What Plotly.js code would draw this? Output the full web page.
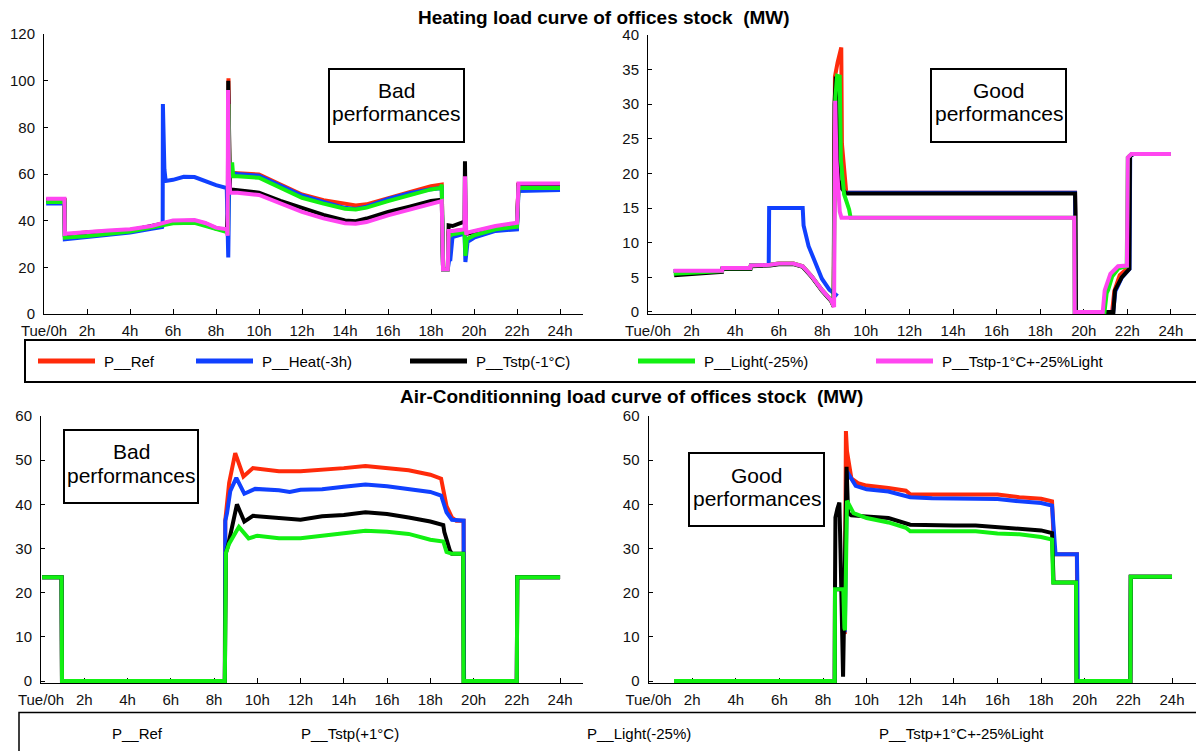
<!DOCTYPE html>
<html>
<head>
<meta charset="utf-8">
<script src="https://cdn.plot.ly/plotly-3.0.1.min.js"></script>
<style>html,body{margin:0;padding:0;background:#fff}#chart{width:1196px;height:751px}</style>
</head>
<body>
<div id="chart"></div>
<script>
// ---------------- DATA ----------------
const hourTicks = [0,2,4,6,8,10,12,14,16,18,20,22,24];
const hourLabels = ['Tue/0h','2h','4h','6h','8h','10h','12h','14h','16h','18h','20h','22h','24h'];

const heatNames = ['P__Ref','P__Heat(-3h)','P__Tstp(-1°C)','P__Light(-25%)','P__Tstp-1°C+-25%Light'];
const acNames = ['P__Ref','P__Tstp(+1°C)','P__Light(-25%)','P__Tstp+1°C+-25%Light'];

// Heating - bad performances (MW)
const hbRefX = [0.1,0.95,0.97,2,3,4,5,6,7,7.5,8,8.5,8.55,8.58,8.62,8.7,9,10,11,12,13,14,14.5,15,16,17,18,18.5,18.56,18.78,18.82,19,19.5,19.7,20,21,22,22.07,24];
const hbRefY = [49,49,34,35,35.5,36,37.5,39.8,40,38.8,36.8,36,34,101,62,60.5,60.3,59.8,55.5,51.2,48.8,47,46.5,47,49.8,52.2,54.8,55.5,19.2,19.2,35,35.5,36,34.5,35.3,37.4,38.8,55.6,55.6];
const hbHeatX = [0.1,0.95,0.97,2,3,4,5,5.5,5.52,5.53,5.6,5.66,6,6.5,7,7.5,8,8.5,8.55,8.57,8.62,9,10,11,12,13,14,14.5,15,16,17,18,18.5,18.56,18.78,18.85,18.9,19,19.5,19.56,19.6,19.7,20,21,22,22.07,24];
const hbHeatY = [47.4,47.4,32,33,34,34.9,36.5,37.3,38,90,62,57,57.5,58.8,58.7,57,55.2,54,24.2,24.2,60.5,60,59.3,55,50.8,48,45.5,45,46,49.3,51.8,53.5,54,19.2,19.2,23.5,23.5,33,34.5,34.5,22.3,30.9,32.7,35.6,36.3,52.7,53.1];
const hbTstpX = [0.1,0.95,0.97,2,4,6,7,8,8.5,8.55,8.57,8.6,8.65,8.7,9,10,11,12,13,14,14.5,15,16,17,18,18.5,18.56,18.78,18.82,19,19.5,19.56,19.58,19.62,19.7,20,21,22,22.07,24];
const hbTstpY = [48.8,48.8,33.8,34.8,35.8,39.6,39.8,36.6,35.8,43,100,70,54,53.4,53,52,48.5,45.3,42.5,40.1,39.8,40.9,43.7,46,48.4,49,19.2,19.2,38,37.7,39.6,39.6,65.5,34,34.5,35.2,37.3,38.7,55.3,55.3];
const hbLightX = [0.1,0.95,0.97,2,4,6,7,8,8.5,8.56,8.58,8.62,8.7,8.75,8.8,9,10,11,12,13,14,14.5,15,16,17,18,18.45,18.5,18.56,18.78,18.82,19,19.5,19.56,19.6,19.66,20,21,22,22.07,24];
const hbLightY = [48,48,32.7,33.4,35.3,38.9,39.1,36.3,35,35,90,60,59,65,59,59,58.4,54,49.8,47.3,45.1,44.8,45.6,48.4,50.8,53.4,54,55.5,19.2,19.2,33,34.2,35,35,24.9,32,33.7,36.3,37.4,54,54];
const hbMixX = [0.1,0.95,0.97,2,3,4,5,6,7,7.5,8,8.5,8.54,8.56,8.6,8.66,9,10,11,12,13,14,14.5,15,16,17,18,18.5,18.56,18.78,18.82,19,19.5,19.56,19.58,19.64,19.7,20,21,22,22.07,24];
const hbMixY = [49.4,49.4,34.4,35.3,35.8,36.3,37.7,40.1,40.3,39,37,36.3,33.5,96,60,52,52,51,47.5,43.8,41,38.9,38.7,39.4,42.3,44.8,47.3,48.4,19.2,19.2,35.6,35.6,36.2,36.2,59,34,34.9,35.6,37.7,39.1,55.9,55.9];

// Heating - good performances (MW)
const hgRefX = [1.18,3.4,3.42,4.7,4.72,5.6,6.0,6.67,7.1,7.5,8.0,8.4,8.52,8.58,8.7,8.8,8.87,8.9,9.0,9.1,19.6,19.62,21.3,21.4,21.65,22.05,22.1,22.25,24];
const hgRefY = [5.9,5.9,6.3,6.3,6.7,6.8,7.0,7.0,6.6,5.2,3.1,1.7,0.8,34,36,37.5,38.2,24.3,20.5,17.2,17.2,0,0,3,5.3,6.4,22.5,22.8,22.8];
const hgHeatX = [1.18,3.4,3.42,4.7,4.72,5.54,5.56,7.1,7.14,7.37,7.63,7.98,8.33,8.7,8.72,9.1,19.6,19.62,21.35,21.45,21.75,22.1,22.13,22.28,24];
const hgHeatY = [5.9,5.9,6.3,6.3,6.7,6.8,15,15,12.5,9.5,7.5,4.8,3.2,2.3,null,17.2,17.2,0,0,3,5,6.2,22.5,22.8,22.8];
const hgTstpX = [1.2,3.4,3.42,4.7,4.72,5.6,6.0,6.67,7.1,7.5,8.0,8.4,8.52,8.56,8.62,8.68,8.75,8.9,9.1,19.6,19.62,19.64,21.36,21.43,21.74,22.09,22.12,22.26,24];
const hgTstpY = [5.3,5.8,6.2,6.2,6.6,6.7,6.9,6.9,6.5,5.1,3.0,1.6,0.8,30,34,25,19,17.8,17.1,17.1,14.3,0,0,3.1,5.0,6.2,22.5,22.8,22.8];
const hgLightX = [1.18,3.4,3.42,4.7,4.72,5.6,6.0,6.67,7.1,7.5,8.0,8.4,8.52,8.6,8.68,8.8,8.85,9.0,9.23,9.3,19.56,19.58,20.95,21.05,21.12,21.3,21.6,21.97,22.02,22.2,24];
const hgLightY = [5.5,5.9,6.3,6.3,6.7,6.8,7.0,7.0,6.6,5.2,3.1,1.7,0.8,31,34.1,34,22,17,14.8,13.6,13.6,0,0,2.7,3.2,5.1,6.3,6.6,22.3,22.8,22.8];
const hgMixX = [1.18,3.4,3.42,4.7,4.72,5.6,6.0,6.67,7.1,7.5,8.0,8.4,8.54,8.59,8.65,8.72,8.8,8.88,19.56,19.58,20.87,20.96,21.1,21.22,21.57,21.98,22.02,22.18,24];
const hgMixY = [5.95,5.95,6.35,6.35,6.7,6.8,7.0,7.0,6.6,5.2,3.1,1.7,0.7,30.5,22,17,14.5,13.6,13.6,0,0,3.1,4.5,5.5,6.6,6.7,22.3,22.8,22.8];

// Air-conditioning - bad performances (MW)
const cbRefX = [0.05,0.95,0.97,8.5,8.52,8.6,8.7,8.98,9.36,9.8,10.5,11,12,13,14,15,16,17,18,18.5,18.75,19.0,19.2,19.54,19.56,22.0,22.02,24];
const cbRefY = [23.5,23.5,0,0,36.3,40,44.9,51.6,46.3,48.2,47.7,47.5,47.5,47.8,48.2,48.7,48.2,47.7,46.7,45.8,39.6,37,36.3,36.3,0,0,23.5,23.5];
const cbTstpX = [0.05,0.95,0.97,8.5,8.52,8.6,8.75,9.03,9.4,9.9,11,11.5,12,13,14,15,16,17,18,18.5,18.75,19.0,19.54,19.56,22.0,22.02,24];
const cbTstpY = [23.5,23.5,0,0,36.3,38,43,46,42.4,43.5,43.2,42.8,43.3,43.4,44,44.5,44.1,43.5,42.8,42,38.2,36.5,36.3,0,0,23.5,23.5];
const cbLightX = [0.05,0.95,0.97,8.5,8.55,8.65,9.06,9.4,9.8,11,12,13,14,15,16,17,18,18.6,18.65,18.9,19.0,19.52,19.54,22.0,22.02,24];
const cbLightY = [23.5,23.5,0,0,29,30.7,40,36.1,37.4,36.9,36.5,37.3,37.6,38.2,37.8,37,36.1,35.3,33.7,29.6,28.8,28.8,0,0,23.5,23.5];
const cbMixX = [0.05,0.95,0.97,8.5,8.55,8.7,9.15,9.6,10,11,12,13,14,15,16,17,18,18.6,18.75,19.0,19.52,19.54,22.0,22.02,24];
const cbMixY = [23.5,23.5,0,0,29,31.1,34.9,32.3,32.9,32.3,32.3,32.9,33.5,34,33.8,33.3,32,31.6,29.2,28.8,28.8,0,0,23.5,23.5];

// Air-conditioning - good performances (MW)
const cgRefX = [1.17,8.54,8.55,8.93,9.0,9.05,9.1,9.3,9.6,10,11,11.8,12,13,16,16.5,17,18,18.5,18.6,19.64,19.66,22.09,22.11,24];
const cgRefY = [0,0,20.8,20.8,10.6,56.6,52,45.9,44.8,44.25,43.7,43.1,42.3,42.2,42.2,41.8,41.6,41.25,40.7,28.7,28.7,0,0,23.6,23.6];
const cgTstpX = [1.17,8.54,8.55,8.93,9.0,9.1,9.5,10,11,12,13,14,15,16,17,18,18.5,18.6,18.66,19.64,19.66,19.68,22.09,22.11,24];
const cgTstpY = [0,0,20.8,20.8,11,47.4,44.2,43.4,42.9,41.6,41.4,41.4,41.3,41.2,40.7,40.3,39.7,33,28.7,28.7,22.3,0,0,23.6,23.6];
const cgLightX = [1.17,8.54,8.55,8.57,8.66,8.75,8.8,8.92,9.08,9.15,9.3,10,11,12,13,14,15,16,17,18,18.5,18.55,18.57,19.6,19.62,22.09,22.11,24];
const cgLightY = [0,0,21,37,39,40.4,30,1,48.5,38,37.5,37.3,36.9,35.4,35.2,35.2,35.2,34.9,34.4,34.1,33.5,22.3,22.3,22.3,0,0,23.6,23.6];
const cgMixX = [1.17,8.54,8.55,8.93,8.98,9.01,9.1,9.4,10,11,11.8,12,13,14,15,16,17,18,18.5,18.55,19.6,19.62,22.09,22.11,24];
const cgMixY = [0,0,20.8,20.8,12,11.5,40.8,38,36.9,35.9,34.7,33.9,33.9,33.9,33.9,33.4,33.2,32.6,32,22.3,22.3,0,0,23.6,23.6];

// ---------------- STYLE / LAYOUT ----------------
const W = 1196, H = 751;
const px = v => v / W;
const py = v => 1 - v / H;
const FONT = '"Liberation Sans", Arial, Helvetica, sans-serif';
const RED = '#ff2a0a', BLUE = '#1040ff', BLACK = '#000000', GREEN = '#12f012', MAGENTA = '#ff46f0';
const heatColors = [RED, BLUE, BLACK, GREEN, MAGENTA];
const acColors = [RED, BLUE, BLACK, GREEN];

function tr(x, y, color, name, n) {
  return {type:'scatter', mode:'lines', x:x, y:y, name:name, showlegend:false,
    xaxis:'x'+(n>1?n:''), yaxis:'y'+(n>1?n:''), line:{color:color, width:4}, hoverinfo:'skip'};
}

const traces = [
  tr(hbRefX, hbRefY, heatColors[0], heatNames[0], 1),
  tr(hbHeatX, hbHeatY, heatColors[1], heatNames[1], 1),
  tr(hbTstpX, hbTstpY, heatColors[2], heatNames[2], 1),
  tr(hbLightX, hbLightY, heatColors[3], heatNames[3], 1),
  tr(hbMixX, hbMixY, heatColors[4], heatNames[4], 1),
  tr(hgRefX, hgRefY, heatColors[0], heatNames[0], 2),
  tr(hgHeatX, hgHeatY, heatColors[1], heatNames[1], 2),
  tr(hgTstpX, hgTstpY, heatColors[2], heatNames[2], 2),
  tr(hgLightX, hgLightY, heatColors[3], heatNames[3], 2),
  tr(hgMixX, hgMixY, heatColors[4], heatNames[4], 2),
  tr(cbRefX, cbRefY, acColors[0], acNames[0], 3),
  tr(cbTstpX, cbTstpY, acColors[1], acNames[1], 3),
  tr(cbLightX, cbLightY, acColors[2], acNames[2], 3),
  tr(cbMixX, cbMixY, acColors[3], acNames[3], 3),
  tr(cgRefX, cgRefY, acColors[0], acNames[0], 4),
  tr(cgTstpX, cgTstpY, acColors[1], acNames[1], 4),
  tr(cgLightX, cgLightY, acColors[2], acNames[2], 4),
  tr(cgMixX, cgMixY, acColors[3], acNames[3], 4)
];

const tickFont = {family:FONT, size:15, color:'#111'};
function xax(p0, p1, r0, r1, anchor) {
  return {domain:[px(p0), px(p1)], range:[r0, r1], anchor:anchor,
    tickmode:'array', tickvals:hourTicks, ticktext:hourLabels,
    ticks:'inside', ticklen:5, tickcolor:'#000', showline:true, linecolor:'#000', linewidth:1,
    showgrid:false, zeroline:false, tickfont:tickFont, ticklabelstandoff:3,
    layer:'below traces', automargin:false, fixedrange:true};
}
function yax(pBottom, pTop, r0, r1, dtick, anchor) {
  return {domain:[py(pBottom), py(pTop)], range:[r0, r1], anchor:anchor,
    tickmode:'linear', tick0:0, dtick:dtick,
    ticks:'inside', ticklen:4, tickcolor:'#000', showline:true, linecolor:'#000', linewidth:1,
    showgrid:false, zeroline:false, tickfont:tickFont, ticklabelstandoff:5,
    layer:'below traces', automargin:false, fixedrange:true};
}

const shapes = [];
const annotations = [];
function text(t, x, y, size, bold, anchor) {
  annotations.push({xref:'paper', yref:'paper', x:px(x), y:py(y), text: bold ? '<b>'+t+'</b>' : t,
    showarrow:false, xanchor:anchor||'center', yanchor:'middle',
    font:{family:FONT, size:size, color:'#000'}});
}
function rect(x0, y0, x1, y1, w) {
  shapes.push({type:'rect', xref:'paper', yref:'paper', x0:px(x0), x1:px(x1), y0:py(y0), y1:py(y1),
    line:{color:'#000', width:w}, fillcolor:'rgba(0,0,0,0)'});
}

// chart titles
text('Heating load curve of offices stock  (MW)', 604, 18, 19, true);
text('Air-Conditionning load curve of offices stock  (MW)', 631, 396, 19, true);

// performance boxes
const boxes = [
  {x0:329, x1:464, y0:69, y1:142, l1:'Bad'},
  {x0:931, x1:1066, y0:69, y1:142, l1:'Good'},
  {x0:64, x1:198, y0:430, y1:503, l1:'Bad'},
  {x0:689, x1:824, y0:453, y1:526, l1:'Good'}
];
boxes.forEach(b => {
  rect(b.x0, b.y0, b.x1, b.y1, 2);
  const cx = (b.x0 + b.x1) / 2;
  text(b.l1, cx, b.y0 + 22, 21, false);
  text('performances', cx, b.y0 + 45, 21, false);
});

// legend 1 (heating)
rect(25, 340, 1210, 382, 2);
const leg1Sample = [38, 196, 410, 638, 876];
heatNames.forEach((n, i) => {
  shapes.push({type:'line', xref:'paper', yref:'paper', x0:px(leg1Sample[i]), x1:px(leg1Sample[i]+57),
    y0:py(361), y1:py(361), line:{color:heatColors[i], width:5}});
  text(n, leg1Sample[i] + 64, 361, 15, false, 'left');
});

// legend 2 (air-conditioning)
rect(19, 712.5, 1210, 770, 1.5);
const leg2Text = [110, 299, 585, 877];
acNames.forEach((n, i) => text(n, leg2Text[i], 733, 15, false, 'left'));

const layout = {
  width:W, height:H, margin:{l:0, r:0, t:0, b:0, pad:0},
  paper_bgcolor:'#fff', plot_bgcolor:'rgba(0,0,0,0)', showlegend:false,
  xaxis:  xax(44, 583, 0, 25.07, 'y'),
  yaxis:  yax(314, 34, 0, 120, 20, 'x'),
  xaxis2: xax(648, 1196, 0, 25.15, 'y2'),
  yaxis2: yax(314, 35, -0.3, 40, 5, 'x2'),
  xaxis3: xax(41, 583, 0, 25.06, 'y3'),
  yaxis3: yax(683, 416, -0.45, 60, 10, 'x3'),
  xaxis4: xax(648.5, 1196, 0, 25.1, 'y4'),
  yaxis4: yax(683, 416, -0.45, 60, 10, 'x4'),
  shapes: shapes,
  annotations: annotations
};

Plotly.newPlot('chart', traces, layout, {staticPlot:true, displayModeBar:false});
</script>
</body>
</html>
